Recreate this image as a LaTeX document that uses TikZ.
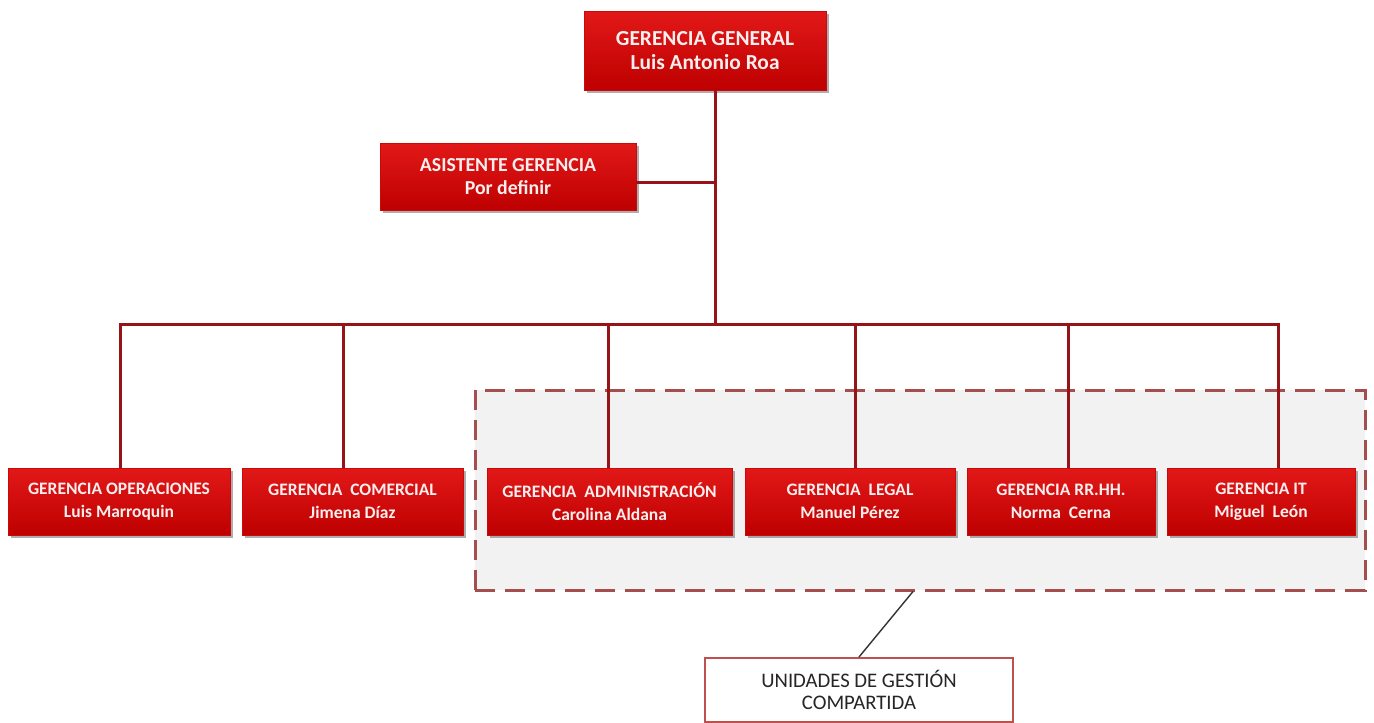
\documentclass[tikz,border=0pt]{standalone}
\usepackage{fontspec}
\setmainfont{Carlito}
\usetikzlibrary{shadows}
\definecolor{boxred}{RGB}{204,8,8}
\definecolor{boxredtop}{RGB}{226,24,24}
\definecolor{boxredbot}{RGB}{190,0,0}
\definecolor{linkred}{RGB}{150,20,24}
\definecolor{dashred}{RGB}{165,78,78}
\definecolor{sharedfill}{RGB}{242,242,242}
\definecolor{labelborder}{RGB}{192,80,77}
\definecolor{labeltext}{RGB}{38,38,38}
\definecolor{boxtext}{RGB}{250,238,238}
\tikzset{
  redbox/.style={draw=boxred, line width=0.6pt, top color=boxredtop, bottom color=boxredbot,
    text=boxtext, align=center, inner sep=0pt,
    drop shadow={shadow xshift=2.5pt, shadow yshift=-3pt, opacity=0.45, fill=black!70}},
  bigtxt/.style={font=\bfseries\fontsize{21.4}{23.5}\selectfont},
  midtxt/.style={font=\bfseries\fontsize{19.8}{23}\selectfont},
  smalltxt/.style={font=\bfseries\fontsize{17.5}{23}\selectfont},
  link/.style={draw=linkred, line width=3pt},
  sharedbox/.style={draw=dashred, fill=sharedfill, line width=3pt, dash pattern=on 20pt off 10pt},
  labelbox/.style={draw=labelborder, fill=white, line width=2pt, text=labeltext, align=center,
    font=\fontsize{20.7}{22.5}\selectfont, inner sep=0pt},
  pointer/.style={draw=black!80, line width=1.4pt}
}
\begin{document}
\begin{tikzpicture}[x=1pt,y=-1pt]
\useasboundingbox[fill=white] (0,0) rectangle (1374,723);
% shared region
\node[sharedbox, minimum width=890, minimum height=200] (shared) at (920,490) {};
% boxes
\node[redbox, bigtxt, minimum width=242, minimum height=79] (gg) at (705,50.5)
  {GERENCIA GENERAL\\Luis Antonio Roa};
\node[redbox, midtxt, minimum width=256, minimum height=67] (asis) at (508,176.5)
  {ASISTENTE GERENCIA\\Por definir};
\node[redbox, smalltxt, minimum width=222, minimum height=67] (op) at (119,501.5)
  {GERENCIA OPERACIONES\\Luis Marroquin};
\node[redbox, smalltxt, minimum width=221, minimum height=67] (com) at (352.5,501.5)
  {GERENCIA\ \ COMERCIAL\\Jimena Díaz};
\node[redbox, smalltxt, minimum width=245, minimum height=67] (adm) at (609.5,501.5)
  {GERENCIA\ \ ADMINISTRACIÓN\\Carolina Aldana};
\node[redbox, smalltxt, minimum width=210, minimum height=67] (leg) at (850,501.5)
  {GERENCIA\ \ LEGAL\\Manuel Pérez};
\node[redbox, smalltxt, minimum width=188, minimum height=67] (rrhh) at (1061,501.5)
  {GERENCIA RR.HH.\\Norma\ \ Cerna};
\node[redbox, smalltxt, minimum width=188, minimum height=67] (it) at (1261,501.5)
  {GERENCIA IT\\Miguel\ \ León};
\node[labelbox, minimum width=308, minimum height=64] (lbl) at (859,690)
  {UNIDADES DE GESTIÓN\\COMPARTIDA};
% connectors
\coordinate (hub) at (715,324);
\coordinate (ja) at (715,182);
\coordinate (b1) at (120,324);
\coordinate (b2) at (343,324);
\coordinate (b3) at (608,324);
\coordinate (b4) at (855,324);
\coordinate (b5) at (1068,324);
\coordinate (b6) at (1278,324);
\coordinate (ps) at (913,590);
\draw[link] (gg.south -| hub) -- (hub);
\draw[link] (asis.east |- ja) -- (ja);
\draw[link, line cap=rect] (b1) -- (b6);
\draw[link] (b1) -- (b1 |- op.north);
\draw[link] (b2) -- (b2 |- com.north);
\draw[link] (b3) -- (b3 |- adm.north);
\draw[link] (b4) -- (b4 |- leg.north);
\draw[link] (b5) -- (b5 |- rrhh.north);
\draw[link] (b6) -- (b6 |- it.north);
\draw[pointer] (shared.south -| ps) -- (lbl.north);
\end{tikzpicture}
\end{document}
